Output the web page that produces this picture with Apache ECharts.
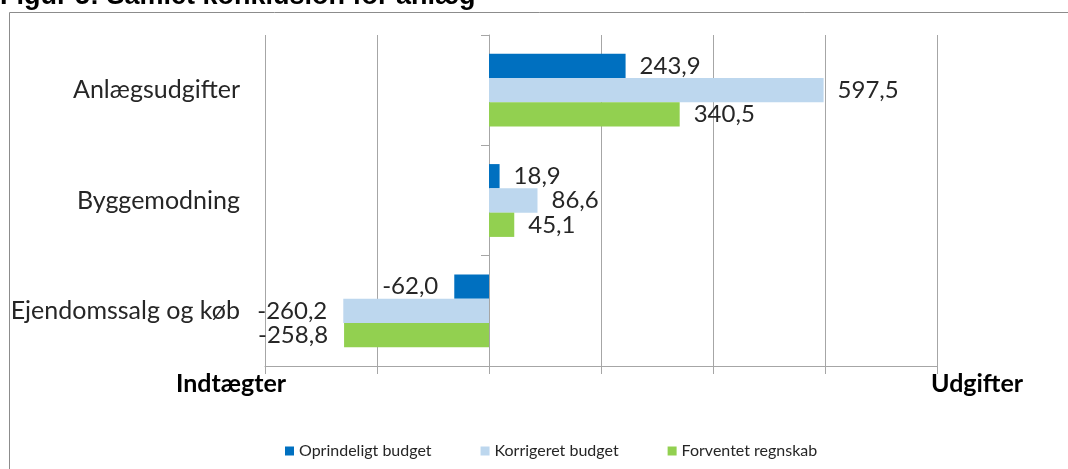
<!DOCTYPE html>
<html>
<head>
<meta charset="utf-8">
<script src="https://cdn.jsdelivr.net/npm/echarts@6/dist/echarts.min.js"></script>
<style>
  html, body { margin: 0; padding: 0; background: #fff; }
  #chart { width: 1068px; height: 469px; }
</style>
</head>
<body>
<div id="chart"></div>
<script>
// data
const categories = ['Anlægsudgifter', 'Byggemodning', 'Ejendomssalg og køb'];
const seriesNames = ['Oprindeligt budget', 'Korrigeret budget', 'Forventet regnskab'];
const oprindeligt = [243.9, 18.9, -62.0];
const korrigeret = [597.5, 86.6, -260.2];
const forventet = [340.5, 45.1, -258.8];
const colors = ['#0070C0', '#BDD7EE', '#92D050'];

const chart = echarts.init(document.getElementById('chart'));

const labelStyle = {
  show: true,
  fontFamily: 'Lato',
  fontSize: 24,
  color: '#262626',
  distance: 14,
  position: 'right',
  formatter: function (p) {
    return p.value.toFixed(1).replace('.', ',');
  }
};

function makeSeries(name, values, color) {
  return {
    name: name,
    type: 'bar',
    barGap: '0%',
    barCategoryGap: '34%',
    itemStyle: { color: color },
    label: labelStyle,
    data: values.map(function (v) {
      return v < 0
        ? { value: v, label: { position: 'left', distance: 16 } }
        : { value: v };
    })
  };
}

chart.setOption({
  animation: false,
  grid: { left: 265, right: 131, top: 35, bottom: 103 },
  legend: {
    left: 280,
    top: 438,
    itemWidth: 9,
    itemHeight: 9,
    itemGap: 49,
    icon: 'rect',
    textStyle: { fontFamily: 'Lato', fontSize: 16, color: '#262626' },
    data: seriesNames
  },
  xAxis: {
    type: 'value',
    min: -400,
    max: 800,
    interval: 200,
    axisLabel: { show: false },
    axisLine: { show: true, lineStyle: { color: '#a6a6a6' } },
    axisTick: { show: true, length: 8, lineStyle: { color: '#a6a6a6' } },
    splitLine: { show: true, lineStyle: { color: '#a6a6a6' } }
  },
  yAxis: [
    {
      type: 'category',
      inverse: true,
      data: categories,
      axisLine: { show: false, onZero: false },
      axisTick: { show: false },
      axisLabel: {
        margin: 25,
        fontFamily: 'Lato',
        fontSize: 25,
        color: '#262626'
      }
    },
    {
      type: 'category',
      inverse: true,
      position: 'left',
      data: categories,
      axisLine: { show: true, onZero: true, lineStyle: { color: '#a6a6a6' } },
      axisTick: { show: true, length: 8, lineStyle: { color: '#a6a6a6' } },
      axisLabel: { show: false }
    }
  ],
  graphic: [
    {
      type: 'rect',
      shape: { x: 9.5, y: 12.5, width: 1200, height: 600 },
      style: { fill: 'none', stroke: '#8c8c8c', lineWidth: 1 },
      silent: true
    },
    {
      type: 'text',
      left: 0,
      top: -17,
      style: {
        text: 'Figur 5: Samlet konklusion for anlæg',
        font: 'bold 27px "Liberation Sans", Arial',
        fill: '#000'
      }
    },
    {
      type: 'text',
      left: 176,
      top: 371,
      style: {
        text: 'Indtægter',
        font: 'bold 25px Lato',
        fill: '#000'
      }
    },
    {
      type: 'text',
      left: 931,
      top: 371,
      style: {
        text: 'Udgifter',
        font: 'bold 25px Lato',
        fill: '#000'
      }
    }
  ],
  series: [
    makeSeries(seriesNames[0], oprindeligt, colors[0]),
    makeSeries(seriesNames[1], korrigeret, colors[1]),
    makeSeries(seriesNames[2], forventet, colors[2])
  ]
});
</script>
</body>
</html>
